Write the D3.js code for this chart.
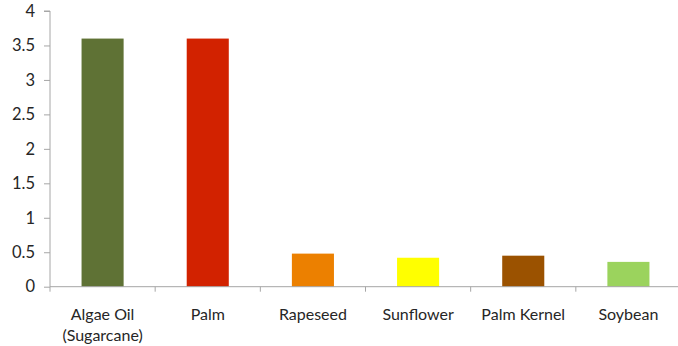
<!DOCTYPE html>
<html>
<head>
<meta charset="utf-8">
<script src="https://cdn.jsdelivr.net/npm/d3@7"></script>
<style>
  html, body { margin: 0; padding: 0; background: #fff; }
  svg text { font-family: Lato, "Open Sans", sans-serif; fill: #262626; }
</style>
</head>
<body>
<svg id="chart" width="678" height="346"></svg>
<script>
// Oil yield by crop source
const categories = ["Algae Oil\n(Sugarcane)", "Palm", "Rapeseed", "Sunflower", "Palm Kernel", "Soybean"];
const values = [3.6, 3.6, 0.48, 0.42, 0.45, 0.36];
const colors = ["#5f7235", "#d22200", "#ec8000", "#ffff00", "#9b5200", "#9bd35d"];
const yTicks = [0, 0.5, 1, 1.5, 2, 2.5, 3, 3.5, 4];

const svg = d3.select("#chart");
const x0 = 50, x1 = 681, yTop = 11, yBase = 286.7;

const x = d3.scaleBand().domain(d3.range(categories.length)).range([x0, x1]).paddingInner(0.6).paddingOuter(0.3);
const xTicks = d3.scaleBand().domain(d3.range(categories.length)).range([x0, x1]);
const y = d3.scaleLinear().domain([0, 4]).range([yBase, yTop]);

// bars
svg.append("g").selectAll("rect").data(values).join("rect")
  .attr("x", (d, i) => x(i))
  .attr("width", x.bandwidth())
  .attr("y", d => y(d))
  .attr("height", d => y(0) - y(d))
  .attr("fill", (d, i) => colors[i]);

// y axis
const yAxis = svg.append("g").attr("transform", `translate(${x0},0)`)
  .call(d3.axisLeft(y).tickValues(yTicks).tickSize(6).tickPadding(9).tickFormat(d3.format("~g")));
yAxis.select(".domain").attr("stroke", "#a6a6a6").attr("d", `M-6,${y(4)}H0V${y(0)}`);
yAxis.selectAll(".tick line").attr("stroke", "#a6a6a6");
yAxis.selectAll(".tick text").attr("font-size", 16.5).attr("fill", "#262626");

// x axis line with category separators
const xg = svg.append("g");
xg.append("line").attr("x1", x0).attr("x2", x1).attr("y1", yBase).attr("y2", yBase)
  .attr("stroke", "#a6a6a6");
xg.selectAll("line.sep").data(d3.range(categories.length + 1)).join("line")
  .attr("class", "sep")
  .attr("x1", i => i < categories.length ? xTicks(i) : x1)
  .attr("x2", i => i < categories.length ? xTicks(i) : x1)
  .attr("y1", yBase).attr("y2", yBase + 5)
  .attr("stroke", "#a6a6a6");

// category labels
const labels = svg.append("g").selectAll("text").data(categories).join("text")
  .attr("x", (d, i) => xTicks(i) + xTicks.bandwidth() / 2)
  .attr("y", 320)
  .attr("text-anchor", "middle")
  .attr("font-size", 16);
labels.selectAll("tspan").data(d => d.split("\n")).join("tspan")
  .attr("x", function () { return this.parentNode.getAttribute("x"); })
  .attr("dy", (d, i) => i === 0 ? 0 : 21)
  .text(d => d);
</script>
</body>
</html>
